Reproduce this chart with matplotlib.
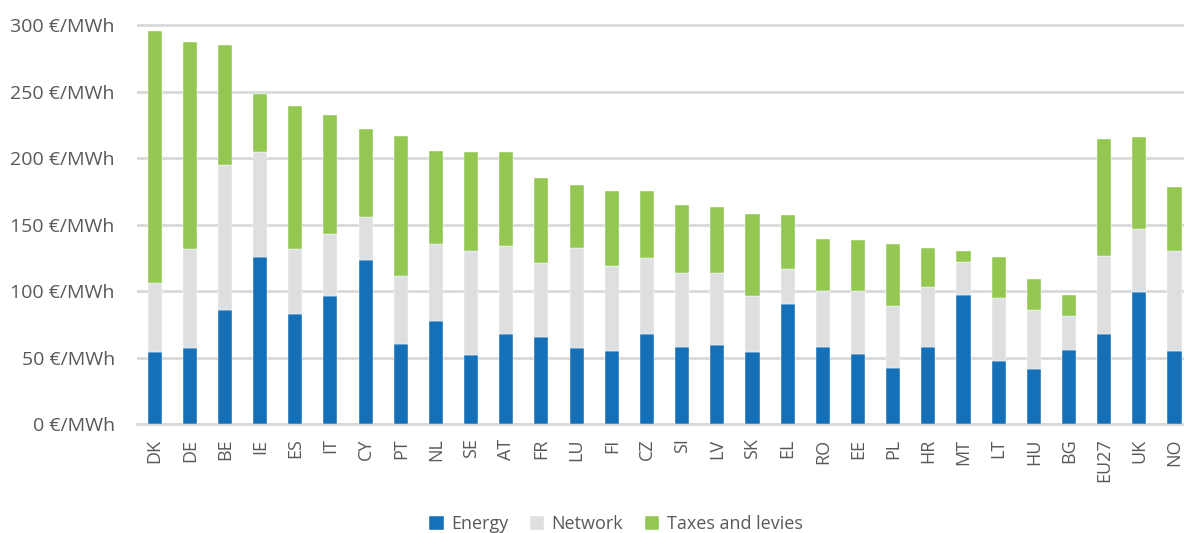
import matplotlib
matplotlib.use("Agg")
import matplotlib.pyplot as plt
import numpy as np

countries = ["DK", "DE", "BE", "IE", "ES", "IT", "CY", "PT", "NL", "SE", "AT", "FR", "LU", "FI", "CZ",
             "SI", "LV", "SK", "EL", "RO", "EE", "PL", "HR", "MT", "LT", "HU", "BG", "EU27", "UK", "NO"]
energy = [54, 57.5, 85.5, 125.5, 83, 96.5, 123.5, 60, 77.5, 52, 68, 65.5, 57.5, 55, 68,
          58, 59.5, 54, 90, 58, 53, 42, 58, 97, 47.5, 41, 55.5, 67.5, 99, 55]
total_network = [106, 131.5, 195, 204.5, 131.5, 142.5, 156, 111, 135.5, 130, 133.5, 121, 132.5, 119, 124.5,
                 113.5, 113.5, 96.5, 116.5, 100, 100, 88.5, 103, 122, 94.5, 85.5, 81, 126.5, 147, 130]
total = [295.5, 287, 285, 248, 239, 232, 222, 216.5, 205.5, 204.5, 204.5, 185, 179.5, 175, 175,
         165, 163.5, 158, 157, 139, 138, 135, 132.5, 130, 125.5, 109, 97, 214, 215.5, 178.5]
network = [n - e for n, e in zip(total_network, energy)]
taxes = [t - n for t, n in zip(total, total_network)]
yticks = [0, 50, 100, 150, 200, 250, 300]

c_energy = "#1570B8"
c_network = "#DEDFE0"
c_taxes = "#93C751"
grid_c = "#D9D9D9"
text_c = "#595959"
fam = ["Open Sans", "DejaVu Sans"]

fig = plt.figure(figsize=(11.84, 5.33), dpi=100)
W, H = 1184, 533
ax = fig.add_axes([137 / W, (533 - 424) / H, (1184 - 137) / W, (424 - 23.7) / H])

x = np.arange(len(countries))
bw = 0.4
ax.bar(x, energy, bw, color=c_energy, label="Energy", zorder=3, edgecolor="white", linewidth=0.3)
ax.bar(x, network, bw, bottom=energy, color=c_network, label="Network", zorder=3, edgecolor="white", linewidth=0.3)
ax.bar(x, taxes, bw, bottom=total_network, color=c_taxes, label="Taxes and levies", zorder=3, edgecolor="white", linewidth=0.3)

ax.set_ylim(0, 301)
ax.set_xlim(-0.5, 29.27)
ax.set_yticks(yticks)
ax.set_yticklabels([f"{v} €/MWh" for v in yticks], fontsize=14, color=text_c, family=fam)
ax.yaxis.grid(True, color=grid_c, linewidth=2, zorder=0)
ax.set_axisbelow(True)
ax.tick_params(axis="y", length=0, pad=16)
ax.set_xticks(x)
ax.set_xticklabels(countries, rotation=90, fontsize=13, color=text_c, family=fam)
ax.tick_params(axis="x", length=0, pad=10.5)
for s in ["top", "right", "left"]:
    ax.spines[s].set_visible(False)
ax.spines["bottom"].set_color(grid_c)
ax.spines["bottom"].set_linewidth(2)

fig.legend(loc="center", bbox_to_anchor=(616 / W, 1 - 524 / H), ncol=3, frameon=False,
           prop={"family": fam, "size": 13}, labelcolor=text_c, handlelength=0.8, handleheight=0.8,
           handletextpad=0.4, columnspacing=1.2)

fig.savefig("out.png", dpi=100)
